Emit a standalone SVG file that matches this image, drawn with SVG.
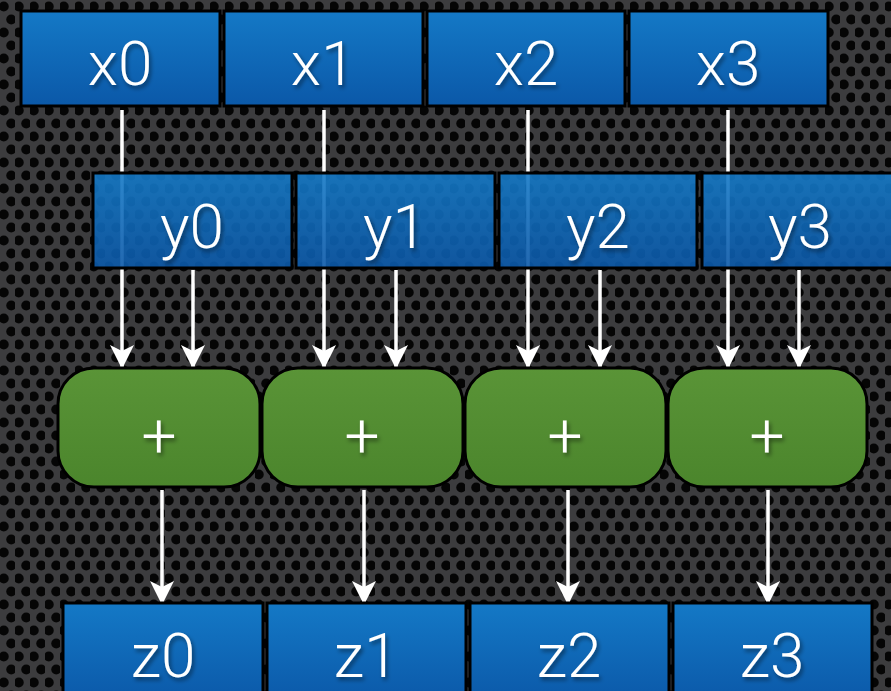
<svg xmlns="http://www.w3.org/2000/svg" width="891" height="691" viewBox="0 0 891 691">
<defs>
<pattern id="holes" width="15" height="26" patternUnits="userSpaceOnUse">
<rect width="15" height="26" fill="#3c3c3e"/>
<circle cx="3.75" cy="6.5" r="5" fill="#050505"/>
<circle cx="11.25" cy="19.5" r="5" fill="#050505"/>
</pattern>
<linearGradient id="blue" x1="0" y1="0" x2="0" y2="1">
<stop offset="0" stop-color="#1479c6"/>
<stop offset="1" stop-color="#0b58a8"/>
</linearGradient>
<linearGradient id="green" x1="0" y1="0" x2="0" y2="1">
<stop offset="0" stop-color="#5a9437"/>
<stop offset="1" stop-color="#4b852c"/>
</linearGradient>
<filter id="ts" x="-20%" y="-20%" width="140%" height="140%">
<feDropShadow dx="2" dy="3" stdDeviation="2" flood-color="#000" flood-opacity="0.45"/>
</filter>
<marker id="ah" viewBox="0 0 24 24" refX="22" refY="12" markerWidth="24" markerHeight="24" markerUnits="userSpaceOnUse" orient="auto">
<path d="M0,0 L24,12 L0,24 L6,12 Z" fill="#ffffff"/>
</marker>
<style>
.box{fill:url(#blue);stroke:#000;stroke-width:3}
.ybox{fill:url(#blue);stroke:#000;stroke-width:3;fill-opacity:0.9}
.op{fill:url(#green);stroke:#000;stroke-width:3}
.lbl{font-family:Roboto,"Liberation Sans",sans-serif;font-weight:300;font-size:62px;fill:#fff;text-anchor:middle;filter:url(#ts)}
.arr{stroke:#fff;stroke-width:3.5;fill:none}
</style>
</defs>
<rect width="891" height="691" fill="url(#holes)"/>

<g id="connectors">
<line class="arr" x1="122" y1="110" x2="122" y2="367" marker-end="url(#ah)"/>
<line class="arr" x1="324" y1="110" x2="324" y2="367" marker-end="url(#ah)"/>
<line class="arr" x1="528" y1="110" x2="528" y2="367" marker-end="url(#ah)"/>
<line class="arr" x1="728" y1="110" x2="728" y2="367" marker-end="url(#ah)"/>
</g>

<g id="x0"><rect class="box" x="21" y="11" width="199" height="95"/><text class="lbl" x="120" y="85">x0</text></g>
<g id="x1"><rect class="box" x="224" y="11" width="199" height="95"/><text class="lbl" x="323" y="85">x1</text></g>
<g id="x2"><rect class="box" x="427" y="11" width="198" height="95"/><text class="lbl" x="526" y="85">x2</text></g>
<g id="x3"><rect class="box" x="629" y="11" width="199" height="95"/><text class="lbl" x="728" y="85">x3</text></g>

<g id="y0"><rect class="ybox" x="93" y="173" width="199" height="95"/><text class="lbl" x="192" y="248">y0</text></g>
<g id="y1"><rect class="ybox" x="296" y="173" width="199" height="95"/><text class="lbl" x="395" y="248">y1</text></g>
<g id="y2"><rect class="ybox" x="499" y="173" width="198" height="95"/><text class="lbl" x="598" y="248">y2</text></g>
<g id="y3"><rect class="ybox" x="702" y="173" width="200" height="95"/><text class="lbl" x="800" y="248">y3</text></g>

<g id="connectors2">
<line class="arr" x1="193" y1="270" x2="193" y2="367" marker-end="url(#ah)"/>
<line class="arr" x1="396" y1="270" x2="396" y2="367" marker-end="url(#ah)"/>
<line class="arr" x1="600" y1="270" x2="600" y2="367" marker-end="url(#ah)"/>
<line class="arr" x1="799" y1="270" x2="799" y2="367" marker-end="url(#ah)"/>
<line class="arr" x1="162" y1="490" x2="162" y2="603" marker-end="url(#ah)"/>
<line class="arr" x1="364" y1="490" x2="364" y2="603" marker-end="url(#ah)"/>
<line class="arr" x1="568" y1="490" x2="568" y2="603" marker-end="url(#ah)"/>
<line class="arr" x1="768" y1="490" x2="768" y2="603" marker-end="url(#ah)"/>
</g>

<g id="add0"><rect class="op" x="58" y="368" width="202" height="119" rx="36" ry="36"/><text class="lbl" x="159" y="457">+</text></g>
<g id="add1"><rect class="op" x="262" y="368" width="201" height="119" rx="36" ry="36"/><text class="lbl" x="362" y="457">+</text></g>
<g id="add2"><rect class="op" x="465" y="368" width="201" height="119" rx="36" ry="36"/><text class="lbl" x="565" y="457">+</text></g>
<g id="add3"><rect class="op" x="668" y="368" width="199" height="119" rx="36" ry="36"/><text class="lbl" x="767" y="457">+</text></g>

<g id="z0"><rect class="box" x="63" y="603" width="200" height="100"/><text class="lbl" x="163" y="677">z0</text></g>
<g id="z1"><rect class="box" x="267" y="603" width="199" height="100"/><text class="lbl" x="366" y="677">z1</text></g>
<g id="z2"><rect class="box" x="470" y="603" width="199" height="100"/><text class="lbl" x="569" y="677">z2</text></g>
<g id="z3"><rect class="box" x="673" y="603" width="199" height="100"/><text class="lbl" x="772" y="677">z3</text></g>
</svg>
